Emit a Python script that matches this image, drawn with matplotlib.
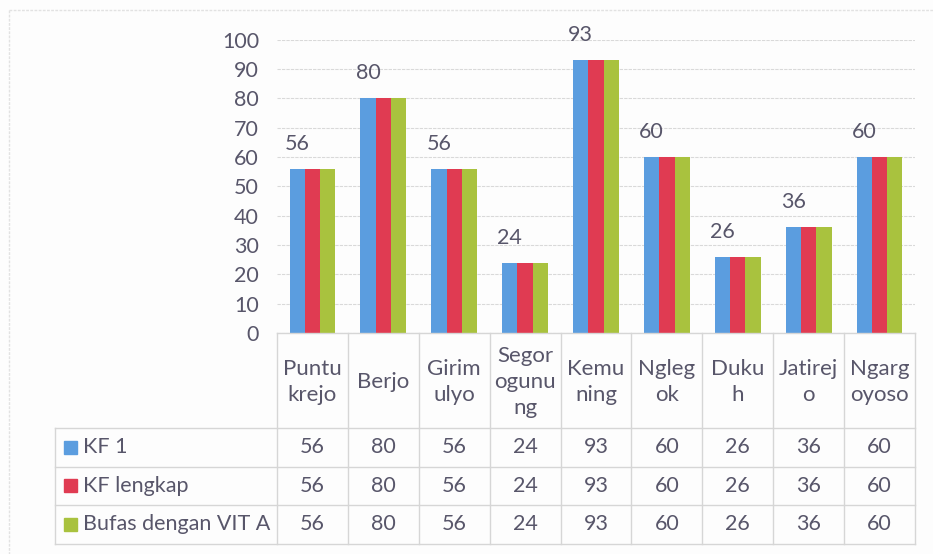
import matplotlib
matplotlib.use("Agg")
import matplotlib.pyplot as plt
from matplotlib.patches import Rectangle
from matplotlib.lines import Line2D
from matplotlib.transforms import blended_transform_factory

plt.rcParams['font.family'] = ['Lato', 'DejaVu Sans']

# data
villages = ["Puntu\nkrejo", "Berjo", "Girim\nulyo", "Segor\nogunu\nng", "Kemu\nning",
            "Ngleg\nok", "Duku\nh", "Jatirej\no", "Ngarg\noyoso"]
series_names = ["KF 1", "KF lengkap", "Bufas dengan VIT A"]
kf1 = [56, 80, 56, 24, 93, 60, 26, 36, 60]
kf_lengkap = [56, 80, 56, 24, 93, 60, 26, 36, 60]
bufas_vit_a = [56, 80, 56, 24, 93, 60, 26, 36, 60]
all_series = [kf1, kf_lengkap, bufas_vit_a]
colors = ["#5b9ddf", "#e03b52", "#a9c23e"]
text_col = "#58566a"
line_col = "#d6d6d6"
fs = 15.5

W, H = 933, 554
fig = plt.figure(figsize=(W / 100, H / 100), dpi=100)
fig.patch.set_facecolor("#fdfdfd")

def fx(px):
    return px / W

def fy(py):
    return 1 - py / H

# chart border (top / left visible)
fig.add_artist(Line2D([fx(9), fx(9)], [fy(10), fy(554)], color="#e2e2e2", lw=1, ls=(0, (2, 1))))
fig.add_artist(Line2D([fx(9), fx(933)], [fy(10), fy(10)], color="#e2e2e2", lw=1, ls=(0, (2, 1))))

ax_left, ax_right, ax_top, ax_bot = 277, 915, 39.5, 333
ax = fig.add_axes([fx(ax_left), fy(ax_bot), fx(ax_right - ax_left), (ax_bot - ax_top) / H])
ax.set_facecolor("none")

n = len(villages)
bw = 0.215
xs = list(range(n))
for i, vals in enumerate(all_series):
    ax.bar([x + (i - 1) * bw for x in xs], vals, width=bw, color=colors[i], zorder=3)

for x, v in zip(xs, kf1):
    ax.annotate(str(v), (x - bw, v), xytext=(0, 18), textcoords="offset points",
                ha="center", va="center", fontsize=fs, color=text_col, annotation_clip=False)

ax.set_xlim(-0.5, n - 0.5)
ax.set_ylim(0, 100)
ax.set_yticks(range(0, 101, 10))
ax.set_xticks([])
ax.tick_params(axis="y", length=0, pad=13, labelsize=fs, labelcolor=text_col)
for s in ax.spines.values():
    s.set_visible(False)
ax.grid(axis="y", color="#d9d9d9", lw=0.8, ls=(0, (3, 1)), zorder=0)

# data table below the plot
tr = blended_transform_factory(ax.transData, fig.transFigure)
row_y = [333, 428, 466.5, 505, 544]
col_edges = [x - 0.5 for x in range(n + 1)]

# horizontal lines
fig.add_artist(Line2D([fx(ax_left), fx(ax_right)], [fy(333), fy(333)], color=line_col, lw=1))
for yy in row_y[1:]:
    fig.add_artist(Line2D([fx(55), fx(ax_right)], [fy(yy), fy(yy)], color=line_col, lw=1))
# vertical lines
for ce in col_edges:
    ax.add_artist(Line2D([ce, ce], [fy(333), fy(544)], color=line_col, lw=1,
                         transform=tr, clip_on=False))
fig.add_artist(Line2D([fx(55), fx(55)], [fy(428), fy(544)], color=line_col, lw=1))

# header
for x, name in zip(xs, villages):
    ax.text(x, fy(382), name, transform=tr, ha="center", va="center", fontsize=16,
            color=text_col, linespacing=1.35, clip_on=False)

# rows
for r, (name, vals) in enumerate(zip(series_names, all_series)):
    yc = (row_y[r + 1] + row_y[r + 2]) / 2
    fig.add_artist(Rectangle((fx(64), fy(yc + 6.5)), fx(13), 13 / H, color=colors[r]))
    fig.text(fx(83), fy(yc), name, ha="left", va="center", fontsize=fs, color=text_col)
    for x, v in zip(xs, vals):
        ax.text(x, fy(yc), str(v), transform=tr, ha="center", va="center",
                fontsize=fs, color=text_col, clip_on=False)

fig.savefig("out.png", dpi=100, facecolor=fig.get_facecolor())
